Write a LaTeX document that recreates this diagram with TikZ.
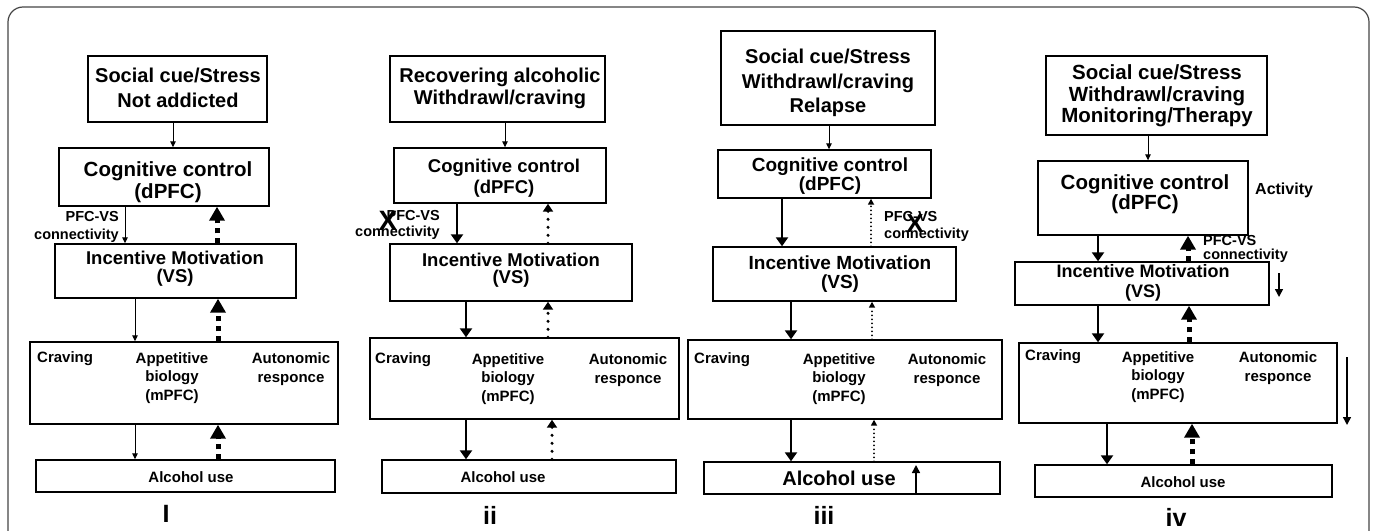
\documentclass[tikz,border=0pt]{standalone}
\usepackage{fontspec}
\setmainfont{Liberation Sans}
\usetikzlibrary{arrows.meta,fit}
\definecolor{framegray}{RGB}{70,70,70}
\begin{document}
\begin{tikzpicture}[x=1pt,y=-1pt,
  box/.style={draw, line width=1.4pt, inner sep=0pt},
  lab/.style={inner sep=0pt, align=center},
  fs/.style 2 args={font=\fontsize{#1}{#2}\selectfont\bfseries},
  thinarr/.style={line width=0.9pt, -{Triangle[length=6pt,width=5.5pt]}},
  markarr/.style={line width=1.5pt, -{Triangle[length=8pt,width=8pt]}},
  thickarr/.style={line width=2.8pt, -{Triangle[length=9pt,width=12pt]}},
  dasharr/.style={line width=5pt, dash pattern=on 5pt off 5pt, -{Triangle[length=14pt,width=15pt]}},
  dotarr/.style={line width=3.4pt, line cap=round, dash pattern=on 0pt off 8pt, -{Triangle[length=8pt,width=10pt]}},
  smalldotarr/.style={line width=2pt, line cap=round, dash pattern=on 0pt off 4pt, -{Triangle[length=6pt,width=6pt]}},
]
\useasboundingbox (0,0) rectangle (1375,530);
\fill[white] (0,0) rectangle (1375,530);
% outer frame
\draw[framegray, line width=1.2pt, rounded corners=15pt] (8,7) rectangle (1369,570);

% ---------------- Panel I ----------------
\node[box, fit={(88,56) (267,122)}] (top1) {};
\node[lab, fs={20}{25}] (top1t) at (178,88) {Social cue/Stress\\Not addicted};
\node[box, fit={(59,148) (269,206)}] (cog1) {};
\node[lab, fs={20.5}{22}] (cog1t) at (168,182) {Cognitive control\\(dPFC)};
\node[box, fit={(55,244) (296,298)}] (inc1) {};
\node[lab, fs={18.5}{18}] (inc1t) at (175,269) {Incentive Motivation\\(VS)};
\node[box, fit={(30,342) (338,424)}] (app1) {};
\node[lab, fs={15}{18}, anchor=west] (app1a) at (37,359) {Craving};
\node[lab, fs={15}{18.5}] (app1b) at (172,378) {Appetitive\\biology\\(mPFC)};
\node[lab, fs={15}{18.5}] (app1c) at (291,369) {Autonomic\\responce};
\node[box, fit={(36,460) (335,492)}] (alc1) {};
\node[lab, fs={15}{18}] (alc1t) at (191,477) {Alcohol use};
\node[lab, fs={14.5}{18}, align=right, anchor=east] (con1) at (119,227) {PFC-VS\\connectivity};
\node[lab, fs={25}{28}] (num1) at (166,514) {I};
\draw[thinarr] (top1.south -| 173,0) -- (cog1.north -| 173,0);
\draw[thinarr] (cog1.south -| 125,0) -- (inc1.north -| 125,0);
\draw[dasharr] (inc1.north -| 217,0) -- (cog1.south -| 217,0);
\draw[thinarr] (inc1.south -| 135,0) -- (app1.north -| 135,0);
\draw[dasharr] (app1.north -| 218,0) -- (inc1.south -| 218,0);
\draw[thinarr] (app1.south -| 135,0) -- (alc1.north -| 135,0);
\draw[dasharr] (alc1.north -| 218,0) -- (app1.south -| 218,0);

% ---------------- Panel ii ----------------
\node[box, fit={(390,56) (605,122)}] (top2) {};
\node[lab, fs={20}{22}] (top2t) at (500,88) {Recovering alcoholic\\Withdrawl/craving};
\node[box, fit={(394,148) (606,203)}] (cog2) {};
\node[lab, fs={18.5}{21}] (cog2t) at (504,178) {Cognitive control\\(dPFC)};
\node[box, fit={(390,244) (632,301)}] (inc2) {};
\node[lab, fs={18.5}{17}] (inc2t) at (511,270) {Incentive Motivation\\(VS)};
\node[box, fit={(370,338) (679,419)}] (app2) {};
\node[lab, fs={15}{18}, anchor=west] (app2a) at (375,360) {Craving};
\node[lab, fs={15}{18.5}] (app2b) at (508,379) {Appetitive\\biology\\(mPFC)};
\node[lab, fs={15}{18.5}] (app2c) at (628,370) {Autonomic\\responce};
\node[box, fit={(382,460) (676,493)}] (alc2) {};
\node[lab, fs={15}{18}] (alc2t) at (503,477) {Alcohol use};
\node[lab, fs={14.5}{16}, align=right, anchor=east] (con2) at (440,225) {PFC-VS\\connectivity};
\node[lab, fs={28}{30}] (x2) at (388,221) {X};
\node[lab, fs={25}{28}] (num2) at (490,515) {ii};
\draw[thinarr] (top2.south -| 505,0) -- (cog2.north -| 505,0);
\draw[thickarr] (cog2.south -| 457,0) -- (inc2.north -| 457,0);
\draw[dotarr] (inc2.north -| 548,0) -- (cog2.south -| 548,0);
\draw[thickarr] (inc2.south -| 466,0) -- (app2.north -| 466,0);
\draw[dotarr] (app2.north -| 548,0) -- (inc2.south -| 548,0);
\draw[thickarr] (app2.south -| 466,0) -- (alc2.north -| 466,0);
\draw[dotarr] (alc2.north -| 552,0) -- (app2.south -| 552,0);

% ---------------- Panel iii ----------------
\node[box, fit={(721,31) (935,125)}] (top3) {};
\node[lab, fs={20}{24.5}] (top3t) at (828,83) {Social cue/Stress\\Withdrawl/craving\\Relapse};
\node[box, fit={(718,150) (931,198)}] (cog3) {};
\node[lab, fs={19}{19}] (cog3t) at (830,176) {Cognitive control\\(dPFC)};
\node[box, fit={(713,247) (956,301)}] (inc3) {};
\node[lab, fs={19}{19}] (inc3t) at (840,274) {Incentive Motivation\\(VS)};
\node[box, fit={(688,340) (1002,419)}] (app3) {};
\node[lab, fs={15}{18}, anchor=west] (app3a) at (694,360) {Craving};
\node[lab, fs={15}{18.5}] (app3b) at (839,379) {Appetitive\\biology\\(mPFC)};
\node[lab, fs={15}{18.5}] (app3c) at (947,370) {Autonomic\\responce};
\node[box, fit={(704,462) (1000,494)}] (alc3) {};
\node[lab, fs={20}{22}] (alc3t) at (839,478) {Alcohol use};
\node[lab, fs={14.5}{17}, align=left, anchor=west] (con3) at (884,226) {PFC-VS\\connectivity};
\node[lab, fs={26}{28}] (x3) at (915,224) {X};
\node[lab, fs={25}{28}] (num3) at (824,515) {iii};
\coordinate (up3) at (916,465);
\draw[thinarr] (top3.south -| 829,0) -- (cog3.north -| 829,0);
\draw[thickarr] (cog3.south -| 782,0) -- (inc3.north -| 782,0);
\draw[smalldotarr] (inc3.north -| 871,0) -- (cog3.south -| 871,0);
\draw[thickarr] (inc3.south -| 791,0) -- (app3.north -| 791,0);
\draw[smalldotarr] (app3.north -| 872,0) -- (inc3.south -| 872,0);
\draw[thickarr] (app3.south -| 791,0) -- (alc3.north -| 791,0);
\draw[smalldotarr] (alc3.north -| 874,0) -- (app3.south -| 874,0);
\draw[markarr] (alc3.south -| up3) -- (up3);

% ---------------- Panel iv ----------------
\node[box, fit={(1046,56) (1267,135)}] (top4) {};
\node[lab, fs={20.5}{21.7}] (top4t) at (1157,96) {Social cue/Stress\\Withdrawl/craving\\Monitoring/Therapy};
\node[box, fit={(1038,161) (1248,235)}] (cog4) {};
\node[lab, fs={20.5}{20}] (cog4t) at (1145,194) {Cognitive control\\(dPFC)};
\node[lab, fs={16}{18}, anchor=west] (act4) at (1255,190) {Activity};
\node[box, fit={(1015,262) (1269,305)}] (inc4) {};
\node[lab, fs={18}{20}] (inc4t) at (1143,283) {Incentive Motivation\\(VS)};
\node[box, fit={(1019,343) (1337,423)}] (app4) {};
\node[lab, fs={15}{18}, anchor=west] (app4a) at (1025,357) {Craving};
\node[lab, fs={15}{18.5}] (app4b) at (1158,377) {Appetitive\\biology\\(mPFC)};
\node[lab, fs={15}{18.5}] (app4c) at (1278,368) {Autonomic\\responce};
\node[box, fit={(1035,465) (1332,497)}] (alc4) {};
\node[lab, fs={15}{18}] (alc4t) at (1183,482) {Alcohol use};
\node[lab, fs={14.5}{14}, align=left, anchor=west] (con4) at (1203,249) {PFC-VS\\connectivity};
\node[lab, fs={25}{28}] (num4) at (1176,517) {iv};
\coordinate (dn4a) at (1279,273);
\coordinate (dn4b) at (1279,297);
\coordinate (dn4c) at (1347,357);
\coordinate (dn4d) at (1347,425);
\draw[thinarr] (top4.south -| 1148,0) -- (cog4.north -| 1148,0);
\draw[thickarr] (cog4.south -| 1098,0) -- (inc4.north -| 1098,0);
\draw[dasharr] (inc4.north -| 1188,0) -- (cog4.south -| 1188,0);
\draw[thickarr] (inc4.south -| 1098,0) -- (app4.north -| 1098,0);
\draw[dasharr] (app4.north -| 1189,0) -- (inc4.south -| 1189,0);
\draw[thickarr] (app4.south -| 1107,0) -- (alc4.north -| 1107,0);
\draw[dasharr] (alc4.north -| 1192,0) -- (app4.south -| 1192,0);
\draw[markarr] (dn4a) -- (dn4b);
\draw[markarr] (dn4c) -- (dn4d);
\end{tikzpicture}
\end{document}
